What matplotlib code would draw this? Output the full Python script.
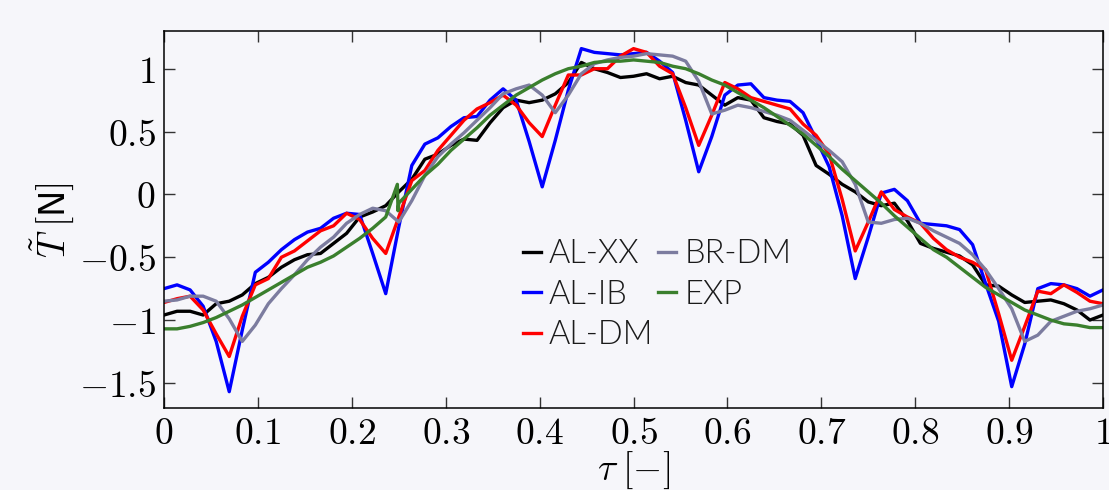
import os
import numpy as np
import matplotlib
matplotlib.use("Agg")
import matplotlib.pyplot as plt
from matplotlib import font_manager as fm

plt.rcParams['mathtext.fontset'] = 'cm'

tau = np.linspace(0, 1, 73)

al_xx = [-0.96, -0.93, -0.93, -0.96, -0.87, -0.85, -0.80, -0.71, -0.66, -0.58, -0.52, -0.48, -0.47,
         -0.39, -0.31, -0.18, -0.14, -0.09, 0.02, 0.12, 0.28, 0.32, 0.39, 0.44, 0.43,
         0.57, 0.69, 0.75, 0.73, 0.75, 0.80, 0.89, 1.05, 1.00, 0.97, 0.93, 0.94,
         0.96, 0.92, 0.94, 0.89, 0.87, 0.79, 0.71, 0.77, 0.75, 0.61, 0.58, 0.56,
         0.47, 0.23, 0.16, 0.08, 0.02, -0.06, -0.09, -0.07, -0.21, -0.39, -0.43, -0.46,
         -0.49, -0.56, -0.72, -0.73, -0.80, -0.86, -0.85, -0.84, -0.87, -0.92, -1.00, -0.96]

al_ib = [-0.75, -0.72, -0.76, -0.89, -1.17, -1.57, -1.08, -0.62, -0.54, -0.44, -0.36, -0.30, -0.27,
         -0.19, -0.15, -0.16, -0.47, -0.79, -0.26, 0.23, 0.40, 0.45, 0.54, 0.61, 0.62,
         0.75, 0.84, 0.75, 0.42, 0.06, 0.43, 0.83, 1.16, 1.13, 1.12, 1.11, 1.12,
         1.13, 1.06, 0.97, 0.59, 0.18, 0.46, 0.79, 0.87, 0.88, 0.77, 0.75, 0.74,
         0.65, 0.44, 0.22, -0.17, -0.67, -0.34, 0.01, 0.04, -0.05, -0.23, -0.24, -0.25,
         -0.28, -0.40, -0.71, -1.01, -1.53, -1.19, -0.75, -0.71, -0.72, -0.75, -0.81, -0.76]

al_dm = [-0.86, -0.83, -0.81, -0.92, -1.11, -1.29, -0.97, -0.72, -0.67, -0.50, -0.45, -0.37, -0.29,
         -0.25, -0.15, -0.20, -0.35, -0.47, -0.18, 0.11, 0.19, 0.35, 0.47, 0.59, 0.68,
         0.73, 0.79, 0.71, 0.57, 0.46, 0.71, 0.95, 0.95, 1.00, 1.00, 1.10, 1.16,
         1.13, 1.02, 0.96, 0.69, 0.39, 0.63, 0.89, 0.84, 0.77, 0.74, 0.71, 0.68,
         0.56, 0.47, 0.32, -0.04, -0.45, -0.22, 0.02, -0.12, -0.18, -0.23, -0.35, -0.44,
         -0.50, -0.54, -0.60, -0.95, -1.32, -1.05, -0.77, -0.79, -0.72, -0.78, -0.85, -0.87]

br_dm = [-0.85, -0.84, -0.81, -0.81, -0.85, -0.99, -1.17, -1.04, -0.87, -0.75, -0.64, -0.52, -0.42,
         -0.34, -0.23, -0.16, -0.11, -0.13, -0.22, -0.05, 0.15, 0.30, 0.40, 0.49, 0.59,
         0.69, 0.80, 0.84, 0.87, 0.79, 0.65, 0.79, 0.96, 1.04, 1.07, 1.09, 1.10,
         1.12, 1.11, 1.10, 1.06, 0.90, 0.64, 0.67, 0.71, 0.69, 0.66, 0.63, 0.59,
         0.51, 0.43, 0.35, 0.26, 0.08, -0.22, -0.23, -0.20, -0.19, -0.23, -0.29, -0.34,
         -0.39, -0.48, -0.60, -0.75, -0.91, -1.17, -1.12, -1.01, -0.97, -0.93, -0.91, -0.88]

exp_v = [-1.07, -1.07, -1.05, -1.02, -0.98, -0.93, -0.88, -0.82, -0.76, -0.70, -0.64, -0.58, -0.54,
         -0.49, -0.42, -0.35, -0.27, -0.18, -0.07, 0.04, 0.15, 0.24, 0.35, 0.44, 0.53,
         0.63, 0.71, 0.79, 0.85, 0.91, 0.96, 1.00, 1.02, 1.05, 1.06, 1.06, 1.07,
         1.06, 1.05, 1.02, 1.00, 0.96, 0.91, 0.87, 0.81, 0.75, 0.69, 0.62, 0.55,
         0.48, 0.39, 0.30, 0.20, 0.11, 0.02, -0.07, -0.17, -0.26, -0.35, -0.44, -0.50,
         -0.58, -0.66, -0.74, -0.80, -0.86, -0.92, -0.96, -1.00, -1.03, -1.04, -1.06, -1.06]

# small glitch in the experimental curve near tau = 0.25
glitch_tau = [0.2485, 0.2492]
glitch_val = [0.08, -0.13]

xticks = [0, 0.1, 0.2, 0.3, 0.4, 0.5, 0.6, 0.7, 0.8, 0.9, 1]
xtick_labels = ['0', '0.1', '0.2', '0.3', '0.4', '0.5', '0.6', '0.7', '0.8', '0.9', '1']
yticks = [-1.5, -1, -0.5, 0, 0.5, 1]
ytick_labels = ['-1.5', '-1', '-0.5', '0', '0.5', '1']

series = [("AL-XX", al_xx, "#000000"),
          ("AL-IB", al_ib, "#0000ff"),
          ("AL-DM", al_dm, "#ff0000"),
          ("BR-DM", br_dm, "#7c7c9f")]

# pick Lato Light if available
LEG_SIZE = 23.5
leg_prop = fm.FontProperties(family='Lato', size=LEG_SIZE)
try:
    cands = []
    for f in fm.findSystemFonts():
        b = os.path.basename(f).lower()
        if 'lato' in b and 'light' in b and 'italic' not in b:
            cands.append(f)
    if cands:
        cands.sort(key=len)
        leg_prop = fm.FontProperties(fname=cands[0], size=LEG_SIZE)
except Exception:
    pass

bg = "#f6f6fa"
fig = plt.figure(figsize=(11.09, 4.90), dpi=100, facecolor=bg)
ax = fig.add_axes([0.1479, 0.1673, 0.9946 - 0.1479, 0.9367 - 0.1673])
ax.set_facecolor(bg)

for name, vals, col in series:
    ax.plot(tau, vals, color=col, lw=2.4, label=name)

t_exp = np.concatenate([tau, glitch_tau])
v_exp = np.concatenate([exp_v, glitch_val])
order = np.argsort(t_exp, kind="stable")
ax.plot(t_exp[order], v_exp[order], color="#3a7f2d", lw=2.4, label="EXP")

ax.set_xlim(0, 1)
ax.set_ylim(-1.7, 1.3)
ax.set_xticks(xticks)
ax.set_xticklabels([f"${s}$" for s in xtick_labels])
ax.set_yticks(yticks)
ax.set_yticklabels([f"${s}$" for s in ytick_labels])
ax.tick_params(direction='in', length=8, width=1, top=True, right=True,
               labelsize=27, pad=6, colors='#333333', labelcolor='black')
for sp in ax.spines.values():
    sp.set_linewidth(1.1)
    sp.set_color('black')

ax.set_xlabel(r'$\tau\;[-]$', fontsize=27, labelpad=-2)
ax.set_ylabel(r'$\tilde{T}\;[\mathsf{N}]$', fontsize=27, labelpad=2)

leg = ax.legend(ncol=2, loc='upper left', bbox_to_anchor=(0.382, 0.448),
                frameon=False, handlelength=0.55, handletextpad=0.25,
                columnspacing=0.15, labelspacing=0.32, borderpad=0,
                borderaxespad=0, prop=leg_prop)
for t in leg.get_texts():
    t.set_color('#1a1a1a')
for h in leg.get_lines():
    h.set_linewidth(2.4)

fig.savefig("out.png", dpi=100, facecolor=bg)
